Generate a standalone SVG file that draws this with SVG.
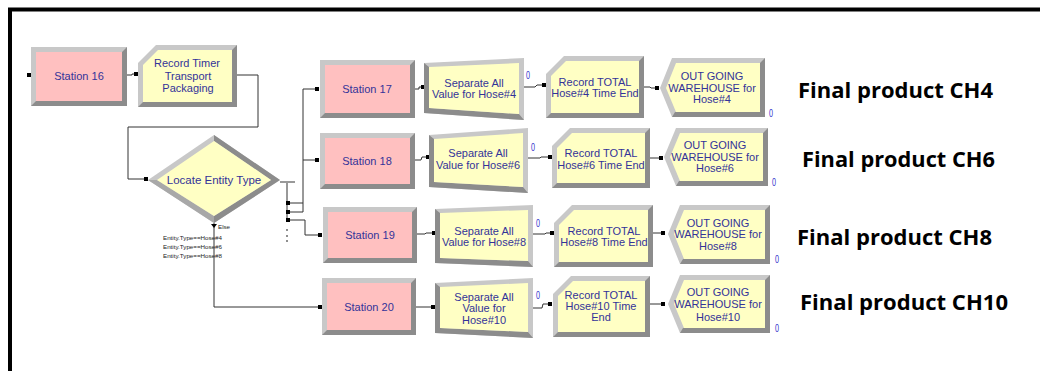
<svg xmlns="http://www.w3.org/2000/svg" width="1040" height="371" viewBox="0 0 1040 371">
<style>
.lt{fill:#C8C8C8}
.dk{fill:#8C8C8C}
.md{fill:#A8A8A8}
.pk{fill:#FFC0C0}
.yl{fill:#FFFFC4}
.t{font-family:"Liberation Sans",Arial,sans-serif;font-size:11px;fill:#333399;text-anchor:middle}
.td{font-size:11.5px}
.z{font-family:"Liberation Sans",Arial,sans-serif;font-size:10px;fill:#3333CC}
.c{fill:none;stroke:#333;stroke-width:1}
.sq{fill:#000}
.cond{font-family:"Liberation Sans",Arial,sans-serif;font-size:6.2px;fill:#222}
.fp{font-family:"Open Sans","Liberation Sans",sans-serif;font-weight:bold;font-size:21px;fill:#000}
</style>
<rect width="1040" height="371" fill="#fff"/>
<path d="M10,371 V9.5 H1040" fill="none" stroke="#000" stroke-width="4"/>

<g id="connectors">
<polyline class="c" points="127,75 132,75 132,74 137,74"/>
<polyline class="c" points="237,75 258,75 258,127 128,127 128,179 146,179"/>
<line x1="280" y1="182" x2="295" y2="182" stroke="#999" stroke-width="2"/>
<line class="c" x1="287" y1="183" x2="287" y2="222"/>
<polyline class="c" points="287,203 303,203"/>
<polyline class="c" points="287,212 303,212"/>
<polyline class="c" points="317,89 303,89 303,212"/>
<polyline class="c" points="303,160 317,160"/>
<polyline class="c" points="287,220 305,220 305,235 320,235"/>
<polyline class="c" points="214,223 214,307 320,307"/>
<polygon class="sq" points="211,224 217,224 214,228"/>
<circle class="sq" cx="287" cy="230" r="0.8"/>
<circle class="sq" cx="287" cy="236" r="0.8"/>
<circle class="sq" cx="287" cy="241" r="0.8"/>
<polyline class="c" points="415,89 419,89 419,87 423,87"/>
<polyline class="c" points="524,87 535,87 537,85 544,85"/>
<polyline class="c" points="644,87 650,87 651,88 657,88"/>
<polyline class="c" points="415,160 421,160 422,157 428,157"/>
<polyline class="c" points="528,158 540,158 541,157 550,157"/>
<polyline class="c" points="650,158 661,158"/>
<polyline class="c" points="417,234 425,234 426,233 434,233"/>
<polyline class="c" points="533,234 545,234 546,233 553,233"/>
<polyline class="c" points="653,233 663,233"/>
<polyline class="c" points="416,307 433,307"/>
<polyline class="c" points="533,308 542,308 543,304 550,304"/>
<polyline class="c" points="650,304 663,304"/>
<rect class="sq" x="27" y="73" width="4" height="4"/>
<rect class="sq" x="134" y="72" width="4" height="4"/>
<rect class="sq" x="144" y="177" width="4" height="4"/>
<rect class="sq" x="286" y="201" width="4" height="4"/>
<rect class="sq" x="286" y="210" width="4" height="4"/>
<rect class="sq" x="286" y="218" width="4" height="4"/>
<rect class="sq" x="315" y="87" width="4" height="4"/>
<rect class="sq" x="315" y="158" width="4" height="4"/>
<rect class="sq" x="318" y="233" width="4" height="4"/>
<rect class="sq" x="318" y="305" width="4" height="4"/>
<rect class="sq" x="421" y="85" width="4" height="4"/>
<rect class="sq" x="542" y="83" width="4" height="4"/>
<rect class="sq" x="655" y="86" width="4" height="4"/>
<rect class="sq" x="426" y="155" width="4" height="4"/>
<rect class="sq" x="548" y="155" width="4" height="4"/>
<rect class="sq" x="659" y="156" width="4" height="4"/>
<rect class="sq" x="432" y="231" width="4" height="4"/>
<rect class="sq" x="550" y="231" width="4" height="4"/>
<rect class="sq" x="661" y="231" width="4" height="4"/>
<rect class="sq" x="431" y="305" width="4" height="4"/>
<rect class="sq" x="548" y="302" width="4" height="4"/>
<rect class="sq" x="661" y="302" width="4" height="4"/>
</g>

<g id="station16">
<rect class="lt" x="31" y="47" width="96" height="59"/>
<polygon class="dk" points="127,47 127,106 31,106 36,101 122,101 122,52"/>
<rect class="pk" x="36" y="52" width="86" height="49"/>
<text class="t" x="79" y="80">Station 16</text>
</g>

<g id="record-timer">
<polygon class="lt" points="138,63 156,45 237,45 237,107 138,107"/>
<polygon class="dk" points="237,45 237,107 138,107 143,102 232,102 232,50"/>
<polygon class="yl" points="143,65 158,50 232,50 232,102 143,102"/>
<text class="t" x="187" y="67">Record Timer</text>
<text class="t" x="188" y="80">Transport</text>
<text class="t" x="188" y="92">Packaging</text>
</g>

<g id="locate-entity-type">
<polygon class="lt" points="148,180 214,135 280,180 214,223"/>
<polygon class="dk" points="214,135 280,180 214,223 214,216 271,180 214,141"/>
<polygon class="md" points="148,180 214,223 214,216 157,180"/>
<polygon class="yl" points="157,180 214,141 271,180 214,216"/>
<text class="t td" x="214" y="184">Locate Entity Type</text>
<text class="cond" x="218" y="229" font-size="6.5">Else</text>
<text class="cond" x="163" y="240" textLength="59" lengthAdjust="spacingAndGlyphs">Entity.Type==Hose#4</text>
<text class="cond" x="163" y="249" textLength="59" lengthAdjust="spacingAndGlyphs">Entity.Type==Hose#6</text>
<text class="cond" x="163" y="258" textLength="59" lengthAdjust="spacingAndGlyphs">Entity.Type==Hose#8</text>
</g>

<g id="station17">
<rect class="lt" x="320" y="60" width="95" height="58"/>
<polygon class="dk" points="415,60 415,118 320,118 325,113 410,113 410,65"/>
<rect class="pk" x="325" y="65" width="85" height="48"/>
<text class="t" x="367" y="93">Station 17</text>
</g>
<g id="separate4">
<polygon class="lt" points="424,63 524,58 524,120 424,113"/>
<polygon class="dk" points="424,63 429,67 429,108 519,114 524,120 424,113"/>
<polygon class="yl" points="429,67 519,63 519,114 429,108"/>
<text class="t" x="474" y="87">Separate All</text>
<text class="t" x="474" y="98">Value for Hose#4</text>
<text class="z" x="526" y="79" textLength="4" lengthAdjust="spacingAndGlyphs">0</text>
</g>
<g id="record4">
<polygon class="lt" points="546,74 564,56 644,56 644,118 546,118"/>
<polygon class="dk" points="644,56 644,118 546,118 551,113 639,113 639,61"/>
<polygon class="yl" points="551,76 566,61 639,61 639,113 551,113"/>
<text class="t" x="595" y="86">Record TOTAL</text>
<text class="t" x="595" y="97">Hose#4 Time End</text>
</g>
<g id="outgoing4">
<polygon class="lt" points="672,58 765,58 765,117 672,117 660,88"/>
<polygon class="dk" points="765,58 765,117 672,117 675,112 760,112 760,63"/>
<polygon class="yl" points="676,63 760,63 760,112 676,112 666,88"/>
<text class="t" x="712" y="80">OUT GOING</text>
<text class="t" x="712" y="92">WAREHOUSE for</text>
<text class="t" x="712" y="103">Hose#4</text>
<text class="z" x="769" y="117" textLength="4" lengthAdjust="spacingAndGlyphs">0</text>
</g>
<text id="final-ch4" class="fp" x="798" y="98" textLength="195" lengthAdjust="spacingAndGlyphs">Final product CH4</text>

<g id="station18">
<rect class="lt" x="320" y="133" width="95" height="56"/>
<polygon class="dk" points="415,133 415,189 320,189 325,184 410,184 410,138"/>
<rect class="pk" x="325" y="138" width="85" height="46"/>
<text class="t" x="367" y="165">Station 18</text>
</g>
<g id="separate6">
<polygon class="lt" points="429,135 528,128 528,193 429,187"/>
<polygon class="dk" points="429,135 434,139 434,182 523,187 528,193 429,187"/>
<polygon class="yl" points="434,139 523,133 523,187 434,182"/>
<text class="t" x="478" y="157">Separate All</text>
<text class="t" x="478" y="169">Value for Hose#6</text>
<text class="z" x="531" y="151" textLength="4" lengthAdjust="spacingAndGlyphs">0</text>
</g>
<g id="record6">
<polygon class="lt" points="552,146 570,128 650,128 650,188 552,188"/>
<polygon class="dk" points="650,128 650,188 552,188 557,183 645,183 645,133"/>
<polygon class="yl" points="557,148 572,133 645,133 645,183 557,183"/>
<text class="t" x="601" y="157">Record TOTAL</text>
<text class="t" x="601" y="169">Hose#6 Time End</text>
</g>
<g id="outgoing6">
<polygon class="lt" points="676,128 768,128 768,186 676,186 664,157"/>
<polygon class="dk" points="768,128 768,186 676,186 679,181 763,181 763,133"/>
<polygon class="yl" points="680,133 763,133 763,181 680,181 670,157"/>
<text class="t" x="715" y="149">OUT GOING</text>
<text class="t" x="715" y="161">WAREHOUSE for</text>
<text class="t" x="715" y="172">Hose#6</text>
<text class="z" x="772" y="186" textLength="4" lengthAdjust="spacingAndGlyphs">0</text>
</g>
<text id="final-ch6" class="fp" x="802" y="167" textLength="193" lengthAdjust="spacingAndGlyphs">Final product CH6</text>

<g id="station19">
<rect class="lt" x="323" y="207" width="94" height="56"/>
<polygon class="dk" points="417,207 417,263 323,263 328,258 412,258 412,212"/>
<rect class="pk" x="328" y="212" width="84" height="46"/>
<text class="t" x="370" y="239">Station 19</text>
</g>
<g id="separate8">
<polygon class="lt" points="435,209 533,205 533,267 435,263"/>
<polygon class="dk" points="435,209 440,213 440,258 528,261 533,267 435,263"/>
<polygon class="yl" points="440,213 528,210 528,261 440,258"/>
<text class="t" x="484" y="235">Separate All</text>
<text class="t" x="484" y="246">Value for Hose#8</text>
<text class="z" x="536" y="227" textLength="4" lengthAdjust="spacingAndGlyphs">0</text>
</g>
<g id="record8">
<polygon class="lt" points="554,223 572,205 653,205 653,267 554,267"/>
<polygon class="dk" points="653,205 653,267 554,267 559,262 648,262 648,210"/>
<polygon class="yl" points="559,225 574,210 648,210 648,262 559,262"/>
<text class="t" x="604" y="235">Record TOTAL</text>
<text class="t" x="604" y="246">Hose#8 Time End</text>
</g>
<g id="outgoing8">
<polygon class="lt" points="680,205 770,205 770,264 680,264 668,234"/>
<polygon class="dk" points="770,205 770,264 680,264 683,259 765,259 765,210"/>
<polygon class="yl" points="684,210 765,210 765,259 684,259 674,234"/>
<text class="t" x="718" y="227">OUT GOING</text>
<text class="t" x="718" y="238">WAREHOUSE for</text>
<text class="t" x="718" y="250">Hose#8</text>
<text class="z" x="775" y="263" textLength="4" lengthAdjust="spacingAndGlyphs">0</text>
</g>
<text id="final-ch8" class="fp" x="797" y="245" textLength="195" lengthAdjust="spacingAndGlyphs">Final product CH8</text>

<g id="station20">
<rect class="lt" x="322" y="278" width="94" height="57"/>
<polygon class="dk" points="416,278 416,335 322,335 327,330 411,330 411,283"/>
<rect class="pk" x="327" y="283" width="84" height="47"/>
<text class="t" x="369" y="311">Station 20</text>
</g>
<g id="separate10">
<polygon class="lt" points="435,283 533,278 533,338 435,333"/>
<polygon class="dk" points="435,283 440,287 440,328 528,332 533,338 435,333"/>
<polygon class="yl" points="440,287 528,283 528,332 440,328"/>
<text class="t" x="484" y="301">Separate All</text>
<text class="t" x="484" y="312">Value for</text>
<text class="t" x="484" y="324">Hose#10</text>
<text class="z" x="536" y="299" textLength="4" lengthAdjust="spacingAndGlyphs">0</text>
</g>
<g id="record10">
<polygon class="lt" points="553,294 571,276 650,276 650,337 553,337"/>
<polygon class="dk" points="650,276 650,337 553,337 558,332 645,332 645,281"/>
<polygon class="yl" points="558,296 573,281 645,281 645,332 558,332"/>
<text class="t" x="601" y="299">Record TOTAL</text>
<text class="t" x="601" y="310">Hose#10 Time</text>
<text class="t" x="601" y="321">End</text>
</g>
<g id="outgoing10">
<polygon class="lt" points="680,275 770,275 770,333 680,333 668,304"/>
<polygon class="dk" points="770,275 770,333 680,333 683,328 765,328 765,280"/>
<polygon class="yl" points="684,280 765,280 765,328 684,328 674,304"/>
<text class="t" x="718" y="296">OUT GOING</text>
<text class="t" x="718" y="308">WAREHOUSE for</text>
<text class="t" x="718" y="321">Hose#10</text>
<text class="z" x="775" y="332" textLength="4" lengthAdjust="spacingAndGlyphs">0</text>
</g>
<text id="final-ch10" class="fp" x="800" y="310" textLength="208" lengthAdjust="spacingAndGlyphs">Final product CH10</text>
</svg>
